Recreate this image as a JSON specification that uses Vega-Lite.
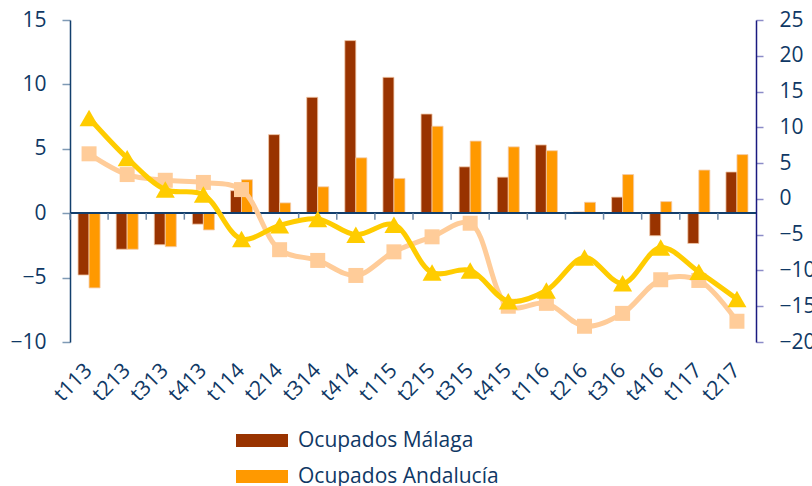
{
  "$schema": "https://vega.github.io/schema/vega-lite/v6.json",
  "width": 686,
  "height": 322,
  "autosize": {"type": "none"},
  "padding": {"left": 70, "top": 20, "right": 56, "bottom": 144},
  "background": "white",
  "config": {
    "view": {"stroke": null},
    "font": "Open Sans",
    "axis": {"grid": false, "labelColor": "#0f3865", "titleColor": "#0f3865", "labelFont": "Open Sans"},
    "axisX": {"title": null, "orient": "bottom", "domain": false, "ticks": false, "tickSize": 0, "labelAngle": -45, "labelAlign": "right", "labelBaseline": "middle", "labelFontSize": 21, "labelPadding": 25, "labelLimit": 0, "labelOverlap": false, "labelColor": "#0f3865"},
    "legend": {"labelFont": "Open Sans"}
  },
  "datasets": {
    "ocupados": [
      {"q": "t113", "serie": "Ocupados Málaga", "valor": -4.8},
      {"q": "t213", "serie": "Ocupados Málaga", "valor": -2.8},
      {"q": "t313", "serie": "Ocupados Málaga", "valor": -2.45},
      {"q": "t413", "serie": "Ocupados Málaga", "valor": -0.85},
      {"q": "t114", "serie": "Ocupados Málaga", "valor": 1.75},
      {"q": "t214", "serie": "Ocupados Málaga", "valor": 6.1},
      {"q": "t314", "serie": "Ocupados Málaga", "valor": 9.0},
      {"q": "t414", "serie": "Ocupados Málaga", "valor": 13.4},
      {"q": "t115", "serie": "Ocupados Málaga", "valor": 10.55},
      {"q": "t215", "serie": "Ocupados Málaga", "valor": 7.7},
      {"q": "t315", "serie": "Ocupados Málaga", "valor": 3.6},
      {"q": "t415", "serie": "Ocupados Málaga", "valor": 2.8},
      {"q": "t116", "serie": "Ocupados Málaga", "valor": 5.3},
      {"q": "t216", "serie": "Ocupados Málaga", "valor": 0.1},
      {"q": "t316", "serie": "Ocupados Málaga", "valor": 1.25},
      {"q": "t416", "serie": "Ocupados Málaga", "valor": -1.75},
      {"q": "t117", "serie": "Ocupados Málaga", "valor": -2.35},
      {"q": "t217", "serie": "Ocupados Málaga", "valor": 3.2},
      {"q": "t113", "serie": "Ocupados Andalucía", "valor": -5.8},
      {"q": "t213", "serie": "Ocupados Andalucía", "valor": -2.8},
      {"q": "t313", "serie": "Ocupados Andalucía", "valor": -2.6},
      {"q": "t413", "serie": "Ocupados Andalucía", "valor": -1.3},
      {"q": "t114", "serie": "Ocupados Andalucía", "valor": 2.6},
      {"q": "t214", "serie": "Ocupados Andalucía", "valor": 0.8},
      {"q": "t314", "serie": "Ocupados Andalucía", "valor": 2.05},
      {"q": "t414", "serie": "Ocupados Andalucía", "valor": 4.3},
      {"q": "t115", "serie": "Ocupados Andalucía", "valor": 2.7},
      {"q": "t215", "serie": "Ocupados Andalucía", "valor": 6.75},
      {"q": "t315", "serie": "Ocupados Andalucía", "valor": 5.6},
      {"q": "t415", "serie": "Ocupados Andalucía", "valor": 5.15},
      {"q": "t116", "serie": "Ocupados Andalucía", "valor": 4.85},
      {"q": "t216", "serie": "Ocupados Andalucía", "valor": 0.85},
      {"q": "t316", "serie": "Ocupados Andalucía", "valor": 3.0},
      {"q": "t416", "serie": "Ocupados Andalucía", "valor": 0.9},
      {"q": "t117", "serie": "Ocupados Andalucía", "valor": 3.35},
      {"q": "t217", "serie": "Ocupados Andalucía", "valor": 4.55}
    ],
    "lineas": [
      {"q": "t113", "serie": "Parados Andalucía", "valor": 6.3},
      {"q": "t213", "serie": "Parados Andalucía", "valor": 3.4},
      {"q": "t313", "serie": "Parados Andalucía", "valor": 2.6},
      {"q": "t413", "serie": "Parados Andalucía", "valor": 2.3},
      {"q": "t114", "serie": "Parados Andalucía", "valor": 1.3},
      {"q": "t214", "serie": "Parados Andalucía", "valor": -7.1},
      {"q": "t314", "serie": "Parados Andalucía", "valor": -8.6},
      {"q": "t414", "serie": "Parados Andalucía", "valor": -10.7},
      {"q": "t115", "serie": "Parados Andalucía", "valor": -7.4},
      {"q": "t215", "serie": "Parados Andalucía", "valor": -5.3},
      {"q": "t315", "serie": "Parados Andalucía", "valor": -3.4},
      {"q": "t415", "serie": "Parados Andalucía", "valor": -15.0},
      {"q": "t116", "serie": "Parados Andalucía", "valor": -14.6},
      {"q": "t216", "serie": "Parados Andalucía", "valor": -17.8},
      {"q": "t316", "serie": "Parados Andalucía", "valor": -16.0},
      {"q": "t416", "serie": "Parados Andalucía", "valor": -11.3},
      {"q": "t117", "serie": "Parados Andalucía", "valor": -11.4},
      {"q": "t217", "serie": "Parados Andalucía", "valor": -17.1},
      {"q": "t113", "serie": "Parados Málaga", "valor": 11.3},
      {"q": "t213", "serie": "Parados Málaga", "valor": 5.7},
      {"q": "t313", "serie": "Parados Málaga", "valor": 1.3},
      {"q": "t413", "serie": "Parados Málaga", "valor": 0.6},
      {"q": "t114", "serie": "Parados Málaga", "valor": -5.6},
      {"q": "t214", "serie": "Parados Málaga", "valor": -3.7},
      {"q": "t314", "serie": "Parados Málaga", "valor": -2.8},
      {"q": "t414", "serie": "Parados Málaga", "valor": -5.0},
      {"q": "t115", "serie": "Parados Málaga", "valor": -3.6},
      {"q": "t215", "serie": "Parados Málaga", "valor": -10.3},
      {"q": "t315", "serie": "Parados Málaga", "valor": -10.0},
      {"q": "t415", "serie": "Parados Málaga", "valor": -14.3},
      {"q": "t116", "serie": "Parados Málaga", "valor": -12.8},
      {"q": "t216", "serie": "Parados Málaga", "valor": -8.2},
      {"q": "t316", "serie": "Parados Málaga", "valor": -11.8},
      {"q": "t416", "serie": "Parados Málaga", "valor": -6.8},
      {"q": "t117", "serie": "Parados Málaga", "valor": -10.2},
      {"q": "t217", "serie": "Parados Málaga", "valor": -14.0}
    ]
  },
  "resolve": {"scale": {"y": "independent"}, "axis": {"y": "independent"}},
  "layer": [
    {
      "data": {"name": "ocupados"},
      "layer": [
        {
          "mark": {"type": "bar", "stroke": "#f2c9a8", "strokeWidth": 0.8},
          "encoding": {
            "x": {
              "field": "q", "type": "nominal",
              "scale": {"domain": ["t113","t213","t313","t413","t114","t214","t314","t414","t115","t215","t315","t415","t116","t216","t316","t416","t117","t217"], "paddingInner": 0, "paddingOuter": 0}
            },
            "xOffset": {"field": "serie", "type": "nominal", "sort": ["Ocupados Málaga", "Ocupados Andalucía"], "scale": {"paddingInner": 0, "paddingOuter": 0.73}},
            "y": {
              "field": "valor", "type": "quantitative",
              "scale": {"domain": [-10, 15], "nice": false, "zero": false},
              "axis": {"title": null, "orient": "left", "values": [-10, -5, 0, 5, 10, 15], "format": "d", "labelFontSize": 21, "labelPadding": 16, "tickSize": 8, "tickColor": "#7f9ab5", "tickWidth": 1.5, "domainColor": "#123f6d", "domainWidth": 1.5, "labelColor": "#0f3865"}
            },
            "color": {
              "field": "serie", "type": "nominal",
              "scale": {"domain": ["Ocupados Málaga", "Ocupados Andalucía"], "range": ["#993300", "#FF9900"]},
              "legend": {"title": null, "orient": "none", "legendX": 181.5, "legendY": 410, "direction": "vertical", "padding": 0, "symbolType": "M-4,-1H4V1H-4Z", "symbolSize": 169, "symbolStrokeWidth": 0, "symbolOpacity": 1, "labelOffset": 25.5, "labelFontSize": 21, "labelColor": "#0f3865", "labelLimit": 0, "rowPadding": 14}
            }
          }
        },
        {
          "mark": {"type": "rule", "color": "#123f6d", "strokeWidth": 1.5},
          "encoding": {"y": {"datum": 0, "type": "quantitative"}}
        },
        {
          "transform": [{"filter": "datum.serie == 'Ocupados Málaga'"}],
          "mark": {"type": "rule", "color": "#6f8aa8", "strokeWidth": 1.5},
          "encoding": {
            "x": {"field": "q", "type": "nominal", "bandPosition": 0},
            "y": {"datum": 0, "type": "quantitative"},
            "y2": {"datum": -0.5}
          }
        }
      ]
    },
    {
      "data": {"name": "lineas"},
      "encoding": {
        "x": {"field": "q", "type": "nominal"},
        "y": {
          "field": "valor", "type": "quantitative",
          "scale": {"domain": [-20, 25], "nice": false, "zero": false},
          "axis": {"title": null, "orient": "right", "values": [-20, -15, -10, -5, 0, 5, 10, 15, 20, 25], "format": "d", "labelFontSize": 21, "labelPadding": 16, "tickSize": 7, "tickColor": "#8c8cc8", "tickWidth": 1.5, "domainColor": "#1a1a80", "domainWidth": 1.5, "labelColor": "#0f3865"}
        }
      },
      "layer": [
        {
          "transform": [{"filter": "datum.serie == 'Parados Andalucía'"}],
          "mark": {"type": "line", "interpolate": "catmull-rom", "color": "#FFCC99", "strokeWidth": 5, "point": {"shape": "square", "size": 225, "filled": true, "color": "#FFCC99", "opacity": 1}}
        },
        {
          "transform": [{"filter": "datum.serie == 'Parados Málaga'"}],
          "mark": {"type": "line", "interpolate": "catmull-rom", "color": "#FFCC00", "strokeWidth": 5, "point": {"shape": "triangle-up", "size": 361, "filled": true, "color": "#FFCC00", "opacity": 1}}
        }
      ]
    }
  ]
}
